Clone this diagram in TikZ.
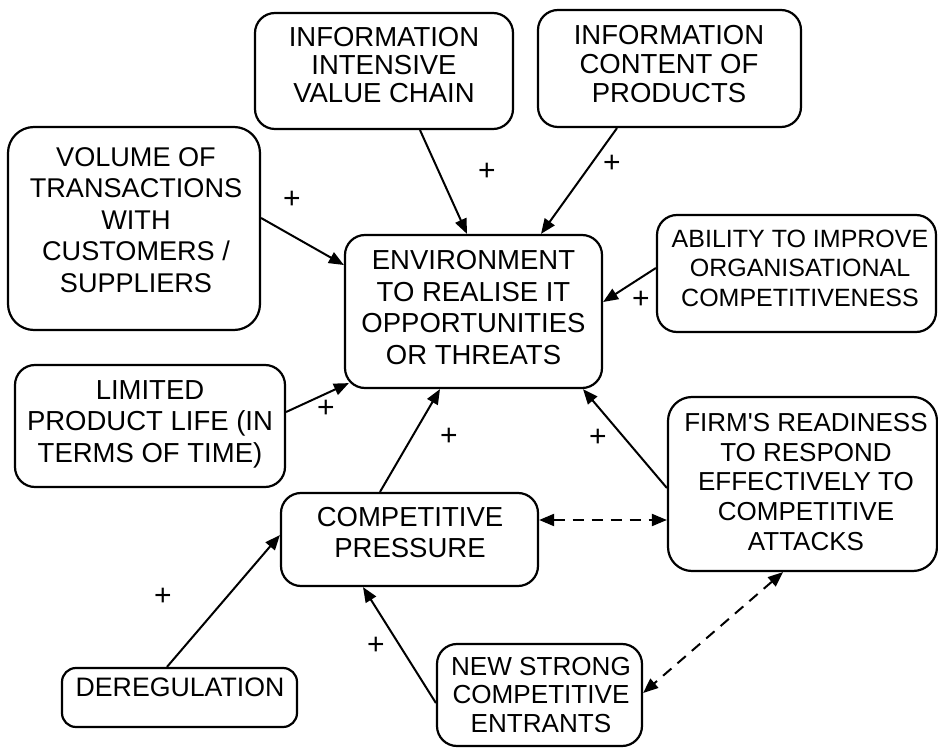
\documentclass[tikz,border=0pt]{standalone}
\usepackage{fontspec}
\setmainfont{Liberation Sans}
\usetikzlibrary{arrows.meta,calc}
\newcommand\fsz[2]{\fontsize{#1}{#2}\selectfont}
\tikzset{
  box/.style={draw, line width=2.2pt, rounded corners=20pt, inner sep=0pt, fill=white},
  txt/.style={align=center, inner sep=0pt, anchor=north},
  arr/.style={line width=2pt, -{Triangle[length=15pt,width=12pt]}},
  darr/.style={line width=2pt, dash pattern=on 11pt off 8pt, {Triangle[length=15pt,width=12pt]}-{Triangle[length=15pt,width=12pt]}},
  plus/.style={inner sep=0pt, font=\fsz{30}{30}},
}
\begin{document}
\begin{tikzpicture}[x=1pt,y=-1pt]
\useasboundingbox (0,0) rectangle (938,751);
% boxes
\node[box, minimum width=258pt, minimum height=116pt] (iivc) at (384,71) {};
\node[box, minimum width=263pt, minimum height=117pt] (icp) at (669.5,68.5) {};
\node[box, rounded corners=26pt, minimum width=252pt, minimum height=203pt] (vol) at (134,228.5) {};
\node[box, minimum width=257pt, minimum height=153pt] (env) at (473.5,311.5) {};
\node[box, minimum width=279pt, minimum height=117pt] (abil) at (796.5,273.5) {};
\node[box, minimum width=270pt, minimum height=122pt] (lim) at (150,426) {};
\node[box, minimum width=257pt, minimum height=93pt] (cp) at (409.5,539.5) {};
\node[box, rounded corners=24pt, minimum width=269pt, minimum height=174pt] (firm) at (802.5,484) {};
\node[box, minimum width=205pt, minimum height=102pt] (new) at (539.5,695) {};
\node[box, rounded corners=14pt, minimum width=235pt, minimum height=59pt] (dereg) at (179.5,697.5) {};
% texts
\node[txt, font=\fsz{27.5}{28.3}] (tiivc) at (384,27) {INFORMATION\\INTENSIVE\\VALUE CHAIN};
\node[txt, font=\fsz{27.5}{29}] (ticp) at (669,25) {INFORMATION\\CONTENT OF\\PRODUCTS};
\node[txt, font=\fsz{27.1}{31.5}] (tvol) at (136,147) {VOLUME OF\\TRANSACTIONS\\WITH\\CUSTOMERS /\\SUPPLIERS};
\node[txt, font=\fsz{27.5}{31.7}] (tenv) at (473.5,250) {ENVIRONMENT\\TO REALISE IT\\OPPORTUNITIES\\OR THREATS};
\node[txt, font=\fsz{25}{29.2}] (tabil) at (800,230) {ABILITY TO IMPROVE\\ORGANISATIONAL\\COMPETITIVENESS};
\node[txt, font=\fsz{27.5}{31.5}] (tlim) at (150,380) {LIMITED\\PRODUCT LIFE (IN\\TERMS OF TIME)};
\node[txt, font=\fsz{27.5}{31.5}] (tcp) at (410,507) {COMPETITIVE\\PRESSURE};
\node[txt, font=\fsz{26}{29.7}] (tfirm) at (806,413) {FIRM\textquotesingle S READINESS\\TO RESPOND\\EFFECTIVELY TO\\COMPETITIVE\\ATTACKS};
\node[txt, font=\fsz{26.1}{28.3}] (tnew) at (541,657) {NEW STRONG\\COMPETITIVE\\ENTRANTS};
\node[txt, font=\fsz{26.7}{30}] (tdereg) at (180,678) {DEREGULATION};
% solid connectors
\draw[arr] ($(iivc.south)+(36,0)$) -- ($(env.north)+(-6.5,0)$);
\draw[arr] ($(icp.south)+(-52.5,0)$) -- ($(env.north)+(67.5,0)$);
\draw[arr] ($(vol.east)+(0,-10.5)$) -- ($(env.west)+(0,-46.5)$);
\draw[arr] ($(abil.west)+(0,-5.5)$) -- ($(env.east)+(0,-9.5)$);
\draw[arr] ($(lim.east)+(0,-14)$) -- ($(env.south west)+(5,-6)$);
\draw[arr] ($(cp.north)+(-29.5,0)$) -- ($(env.south)+(-33.5,0)$);
\draw[arr] ($(firm.west)+(0,4)$) -- ($(env.south)+(109.5,0)$);
\draw[arr] ($(dereg.north)+(-12.5,0)$) -- ($(cp.west)+(0,-4.5)$);
\draw[arr] ($(new.west)+(0,8)$) -- ($(cp.south)+(-46.5,0)$);
% dashed connectors
\draw[darr] ($(cp.east)+(0,-19.5)$) -- ($(firm.west)+(0,36)$);
\draw[darr] ($(firm.south)+(-19.5,0)$) -- ($(new.east)+(0,-2)$);
% plus labels
\node[plus] (p1) at (292,200) {+};
\node[plus] (p2) at (487,172) {+};
\node[plus] (p3) at (612,164) {+};
\node[plus] (p4) at (641,300) {+};
\node[plus] (p5) at (326,409) {+};
\node[plus] (p6) at (449,437) {+};
\node[plus] (p7) at (598,438) {+};
\node[plus] (p8) at (163,597) {+};
\node[plus] (p9) at (376,646) {+};
\end{tikzpicture}
\end{document}
